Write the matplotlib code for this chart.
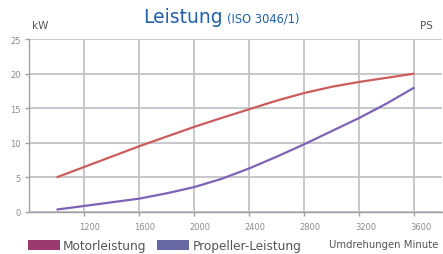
import matplotlib
matplotlib.use('Agg')
import matplotlib.pyplot as plt
import matplotlib.transforms as mtransforms
from matplotlib.patches import Patch

# Werte
drehzahl = [1000, 1200, 1400, 1600, 1800, 2000, 2200, 2400, 2600, 2800, 3000, 3200, 3400, 3600]
motorleistung = [5.0, 6.5, 8.0, 9.5, 10.9, 12.3, 13.6, 14.85, 16.1, 17.2, 18.1, 18.8, 19.4, 20.0]
propellerleistung = [0.35, 0.87, 1.4, 1.93, 2.7, 3.6, 4.8, 6.3, 8.0, 9.8, 11.7, 13.6, 15.7, 18.0]
x_ticks = [1200, 1600, 2000, 2400, 2800, 3200, 3600]
y_ticks = [0, 5, 10, 15, 20, 25]

grau = '#8c8c8c'
fig = plt.figure(figsize=(4.43, 2.55), dpi=100)
ax = fig.add_axes([29 / 443, 42 / 255, 413 / 443, 173 / 255])

ax.plot(drehzahl, motorleistung, color='#cc5c5c', lw=1.6, solid_capstyle='butt')
ax.plot(drehzahl, propellerleistung, color='#7c63b6', lw=1.6, solid_capstyle='butt')

ax.set_xlim(800, 3800)
ax.set_ylim(0, 25)
ax.set_xticks(x_ticks)
ax.set_yticks(y_ticks)
ax.grid(color='#c4c4c8', lw=1.3)
ax.set_axisbelow(True)

for s in ['top', 'right']:
    ax.spines[s].set_visible(False)
for s in ['left', 'bottom']:
    ax.spines[s].set_color('#a0a0a4')
    ax.spines[s].set_linewidth(1.0)

ax.tick_params(axis='both', colors='#a0a0a4', labelcolor=grau, labelsize=6, length=3, width=1)
ax.tick_params(axis='x', pad=4)
ax.tick_params(axis='y', pad=3)

# x-Beschriftungen leicht nach rechts versetzt wie im Original
offset = mtransforms.ScaledTranslation(6 / 100, 0, fig.dpi_scale_trans)
for lbl in ax.get_xticklabels():
    lbl.set_transform(lbl.get_transform() + offset)

# Titel und Einheiten
fig.text(143 / 443, 1 - 23 / 255, 'Leistung', color='#1f5fad', fontsize=13.5, ha='left', va='baseline')
fig.text(227 / 443, 1 - 23 / 255, '(ISO 3046/1)', color='#1f5fad', fontsize=8.3, ha='left', va='baseline')
fig.text(32 / 443, 1 - 29 / 255, 'kW', color='#555555', fontsize=7.5, ha='left', va='baseline')
fig.text(420 / 443, 1 - 29 / 255, 'PS', color='#555555', fontsize=7.5, ha='left', va='baseline')

# Legende
handles = [Patch(facecolor='#9b3a6e', edgecolor='none', label='Motorleistung'),
           Patch(facecolor='#6868a4', edgecolor='none', label='Propeller-Leistung')]
leg = fig.legend(handles=handles, loc='lower left', bbox_to_anchor=(17 / 443, -9 / 255),
                 ncol=2, frameon=False, fontsize=8.7, handlelength=2.65, handleheight=0.9,
                 handletextpad=0.25, columnspacing=0.9)
for t in leg.get_texts():
    t.set_color('#555555')

fig.text(329 / 443, 1 - 248 / 255, 'Umdrehungen Minute', color='#555555', fontsize=7.3,
         ha='left', va='baseline')

plt.savefig('out.png', dpi=100)
